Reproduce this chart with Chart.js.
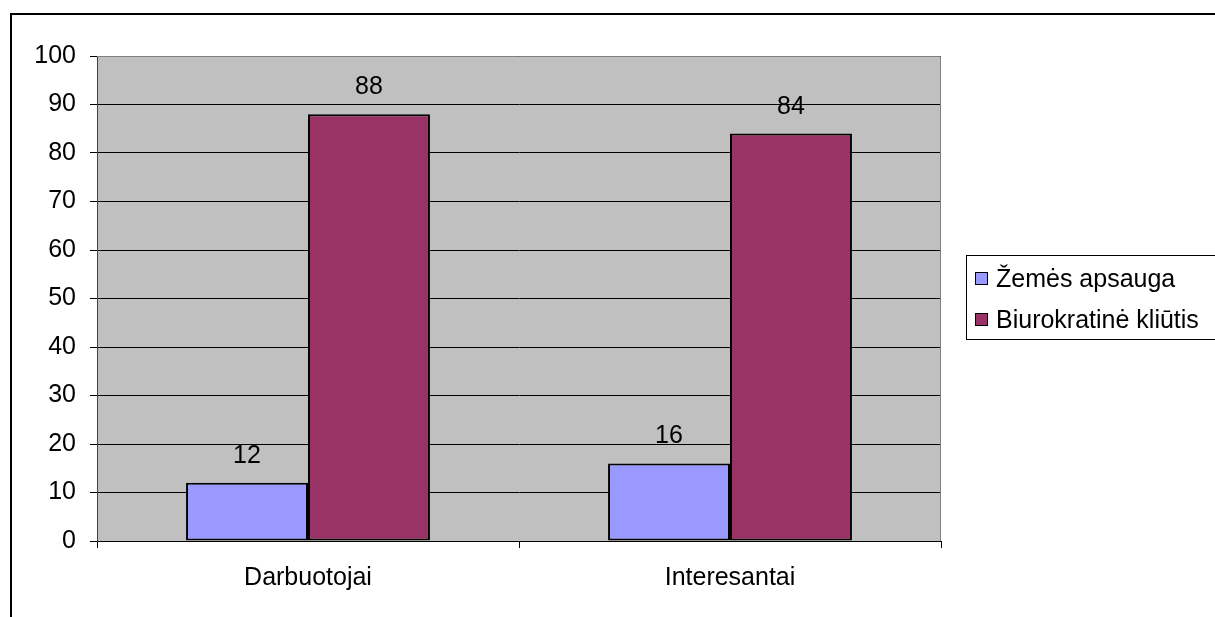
<!DOCTYPE html>
<html>
<head>
<meta charset="utf-8">
<script src="https://cdn.jsdelivr.net/npm/chart.js@4/dist/chart.umd.min.js"></script>
<style>
  html, body { margin: 0; padding: 0; background: #ffffff; }
  #wrap { width: 1215px; height: 617px; position: relative; }
</style>
</head>
<body>
<div id="wrap"><canvas id="c" width="1215" height="617"></canvas></div>
<script>
const categories = ['Darbuotojai', 'Interesantai'];
const seriesNames = ['Žemės apsauga', 'Biurokratinė kliūtis'];
const zemesApsauga = [12, 16];
const biurokratineKliutis = [88, 84];
const yTicks = [0, 10, 20, 30, 40, 50, 60, 70, 80, 90, 100];

const FONT = '"Liberation Sans", Arial, sans-serif';
const FONT_SIZE = 25;

// gray plot background, outer frame and plot border
const framePlugin = {
  id: 'frame',
  beforeDraw(chart) {
    const { ctx, chartArea: a } = chart;
    ctx.save();
    ctx.fillStyle = '#ffffff';
    ctx.fillRect(0, 0, chart.width, chart.height);
    ctx.fillStyle = '#c0c0c0';
    ctx.fillRect(a.left, a.top, a.right - a.left, a.bottom - a.top);
    ctx.strokeStyle = '#000000';
    ctx.lineWidth = 2;
    ctx.strokeRect(11, 14, chart.width + 20, chart.height + 20);
    ctx.restore();
  },
  afterDatasetsDraw(chart) {
    const { ctx, chartArea: a } = chart;
    ctx.save();
    ctx.strokeStyle = '#808080';
    ctx.lineWidth = 1;
    ctx.beginPath();
    ctx.moveTo(a.left, a.top + 0.5);
    ctx.lineTo(a.right - 0.5, a.top + 0.5);
    ctx.lineTo(a.right - 0.5, a.bottom);
    ctx.stroke();
    ctx.restore();
  }
};

// value labels above each bar
const valueLabels = {
  id: 'valueLabels',
  afterDatasetsDraw(chart) {
    const { ctx } = chart;
    ctx.save();
    ctx.font = FONT_SIZE + 'px ' + FONT;
    ctx.fillStyle = '#000000';
    ctx.textAlign = 'center';
    ctx.textBaseline = 'alphabetic';
    chart.data.datasets.forEach((ds, i) => {
      chart.getDatasetMeta(i).data.forEach((bar, j) => {
        ctx.fillText(String(ds.data[j]), bar.x, bar.y - 20);
      });
    });
    ctx.restore();
  }
};

// boxed legend at the right
const boxLegend = {
  id: 'boxLegend',
  afterDraw(chart) {
    const { ctx } = chart;
    const x0 = 966, y0 = 255, w = 260, h = 84;
    ctx.save();
    ctx.fillStyle = '#ffffff';
    ctx.fillRect(x0, y0, w, h);
    ctx.strokeStyle = '#000000';
    ctx.lineWidth = 1;
    ctx.strokeRect(x0 + 0.5, y0 + 0.5, w, h);
    ctx.font = FONT_SIZE + 'px ' + FONT;
    ctx.textBaseline = 'middle';
    ctx.textAlign = 'left';
    chart.data.datasets.forEach((ds, i) => {
      const cy = 279 + i * 41;
      ctx.fillStyle = ds.backgroundColor;
      ctx.fillRect(975.5, cy - 6.5, 12, 12);
      ctx.strokeStyle = '#000000';
      ctx.strokeRect(975.5, cy - 6.5, 12, 12);
      ctx.fillStyle = '#000000';
      ctx.fillText(ds.label, 996, cy + 1);
    });
    ctx.restore();
  }
};

new Chart(document.getElementById('c'), {
  type: 'bar',
  data: {
    labels: categories,
    datasets: [
      { label: seriesNames[0], data: zemesApsauga, backgroundColor: '#9999ff', borderColor: '#000000', borderWidth: 2, borderSkipped: false },
      { label: seriesNames[1], data: biurokratineKliutis, backgroundColor: '#993366', borderColor: '#000000', borderWidth: 2, borderSkipped: false }
    ]
  },
  options: {
    responsive: false,
    animation: false,
    events: [],
    layout: { padding: { top: 56, right: 274, left: 0, bottom: 0 } },
    datasets: { bar: { categoryPercentage: 0.578, barPercentage: 1 } },
    plugins: { legend: { display: false }, tooltip: { enabled: false } },
    scales: {
      x: {
        grid: { display: true, drawOnChartArea: false, offset: true, tickLength: 7, color: '#000000', lineWidth: 1 },
        border: { display: true, color: '#000000', width: 1 },
        ticks: { color: '#000000', font: { family: FONT, size: FONT_SIZE }, padding: 15 },
        afterFit(s) { s.height = 76; }
      },
      y: {
        min: 0, max: 100,
        afterBuildTicks(s) { s.ticks = yTicks.map(v => ({ value: v })); },
        grid: { color: '#000000', lineWidth: 1, tickLength: 7, tickColor: '#000000' },
        border: { display: true, color: '#404040', width: 1 },
        ticks: { color: '#000000', font: { family: FONT, size: FONT_SIZE }, padding: 14 },
        afterFit(s) { s.width = 97; }
      }
    }
  },
  plugins: [framePlugin, valueLabels, boxLegend]
});
</script>
</body>
</html>
